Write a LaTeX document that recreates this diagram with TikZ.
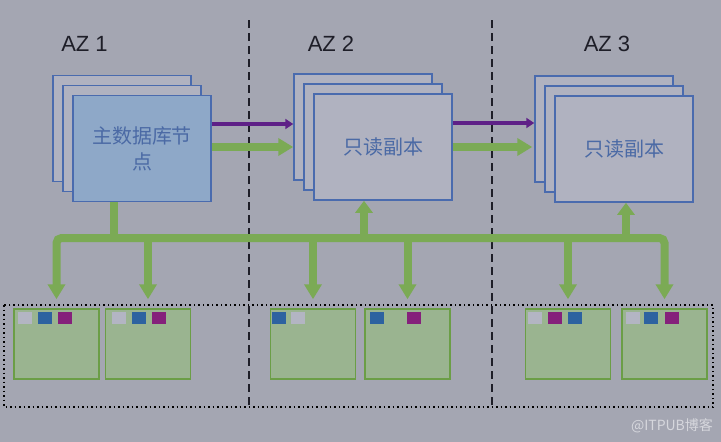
\documentclass[tikz,border=0pt]{standalone}
\usepackage{fontspec}
\setmainfont{Liberation Sans}
\newfontfamily\cjk{Noto Sans CJK SC}
\usepackage{tikz}
\usetikzlibrary{arrows.meta}
\definecolor{bggray}{HTML}{A4A6B2}
\definecolor{cardfill}{HTML}{B0B2C0}
\definecolor{mainfill}{HTML}{8EA8C8}
\definecolor{cardedge}{HTML}{4A6BAE}
\definecolor{cardtext}{HTML}{4B6AA5}
\definecolor{busgreen}{HTML}{7BAA55}
\definecolor{syncpurple}{HTML}{5E2087}
\definecolor{diskfill}{HTML}{9AB490}
\definecolor{diskedge}{HTML}{6B9E46}
\definecolor{blkgray}{HTML}{B3B5C3}
\definecolor{blkblue}{HTML}{2D62A0}
\definecolor{blkpurple}{HTML}{85207B}
\definecolor{azline}{HTML}{1E1E28}
\definecolor{wmark}{HTML}{D6D7DD}

\begin{document}
\begin{tikzpicture}[x=1pt, y=-1pt,
  card/.style={draw=cardedge, line width=1.5pt, fill=cardfill,
               minimum width=138pt, minimum height=106pt, inner sep=0pt,
               text=cardtext, align=center,
               font=\cjk\fontsize{20pt}{26pt}\selectfont},
  disk/.style={draw=diskedge, line width=1.5pt, fill=diskfill,
               minimum width=85pt, minimum height=70pt, inner sep=0pt},
  azlabel/.style={text=azline, inner sep=0pt, font=\fontsize{22pt}{22pt}\selectfont},
  azsep/.style={azline, line width=2pt, dash pattern=on 8pt off 5pt},
  bus/.style={busgreen, line width=8pt},
  busarrow/.style={bus, -{Triangle[width=17pt,length=15pt]}},
  syncarrow/.style={syncpurple, line width=3.5pt, -{Triangle[width=10pt,length=8pt]}},
  sqg/.style={fill=blkgray}, sqb/.style={fill=blkblue}, sqp/.style={fill=blkpurple}]
%
\useasboundingbox (0,0) rectangle (721,442);
\fill[bggray] (0,0) rectangle (721,442);

% availability zones
\draw[azsep] (249,20) -- (249,408);
\draw[azsep] (492,20) -- (492,408);
\node[azlabel] (az1) at (84.5,44) {AZ 1};
\node[azlabel] (az2) at (331,44) {AZ 2};
\node[azlabel] (az3) at (607,44) {AZ 3};

% stacked instances
\foreach \s/\cx/\cy in {main/142/148.5, rep2/383/147, rep3/624/149} {
  \node[card] (\s-back) at (\cx-20,\cy-20) {};
  \node[card] (\s-mid) at (\cx-10,\cy-10) {};
}
\node[card, fill=mainfill] (main) at (142,148.5) {主数据库节\\点};
\node[card] (rep2) at (383,147) {只读副本};
\node[card] (rep3) at (624,149) {只读副本};

% replication
\draw[syncarrow] (main.east |- 0,124) -- (rep2-back.west |- 0,124);
\draw[busarrow] (main.east |- 0,147) -- (rep2-back.west |- 0,147);
\draw[syncarrow] (rep2.east |- 0,123) -- (rep3-back.west |- 0,123);
\draw[busarrow] (rep2.east |- 0,147) -- ([xshift=-2pt]rep3-back.west |- 0,147);

% shared storage
\draw[line width=1.5pt, dash pattern=on 1.5pt off 3pt] (4,305) rectangle (713,407);
\node[disk] (box1) at (56.5,344) {};
\node[disk] (box2) at (148,344) {};
\node[disk] (box3) at (313,344) {};
\node[disk] (box4) at (407.5,344) {};
\node[disk] (box5) at (568,344) {};
\node[disk] (box6) at (664.5,344) {};
\foreach \b/\sq in {box1/{sqg/5,sqb/25,sqp/45}, box2/{sqg/7,sqb/27,sqp/47},
                    box3/{sqb/2,sqg/21}, box4/{sqb/6,sqp/43},
                    box5/{sqg/3,sqp/23,sqb/43}, box6/{sqg/5,sqb/23,sqp/44}}
  \foreach \c/\dx in \sq
    \fill[\c] ([xshift=\dx pt, yshift=-4pt]\b.north west) rectangle ++(14,12);

% storage bus
\coordinate (bus) at (0,238);
\draw[bus, rounded corners=5pt, {Triangle[width=17pt,length=15pt]}-{Triangle[width=17pt,length=15pt]}]
  ([yshift=9pt]box1.north) -- (box1.north |- bus) -- (box6.north |- bus) -- ([yshift=9pt]box6.north);
\draw[bus] ([xshift=-28pt]main.south) -- ([xshift=-28pt]main.south |- bus);
\foreach \b in {box2,box3,box4,box5}
  \draw[busarrow, shorten >=9pt] (\b.north |- bus) -- (\b.north);
\draw[busarrow, {Triangle[width=17pt,length=12pt]}-] ([xshift=-19pt]rep2.south) -- ([xshift=-19pt]rep2.south |- bus);
\draw[busarrow, {Triangle[width=17pt,length=12pt]}-] ([xshift=2pt]rep3.south) -- ([xshift=2pt]rep3.south |- bus);

\node[text=wmark, font=\cjk\fontsize{14pt}{14pt}\selectfont] (wm) at (672,426) {@ITPUB博客};
%
\end{tikzpicture}
\end{document}
